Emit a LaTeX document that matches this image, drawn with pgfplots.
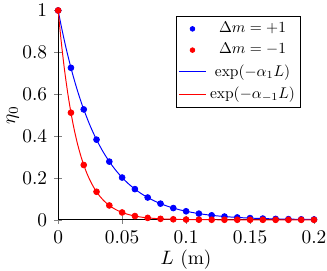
\documentclass[border=0pt]{standalone}
\usepackage{pgfplots}
\pgfplotsset{compat=1.18}
\begin{document}
\begin{tikzpicture}
\begin{axis}[
  scale only axis,
  width=132pt, height=108pt,
  xmin=0, xmax=0.2, ymin=0, ymax=1,
  axis x line=bottom, axis y line=left,
  axis line style={-},
  tick align=center,
  xtick={0,0.05,0.1,0.15,0.2},
  ytick={0,0.2,0.4,0.6,0.8,1},
  scaled x ticks=false,
  xticklabel style={/pgf/number format/fixed},
  xlabel={$L$ (m)}, ylabel={$\eta_0$},
  xlabel shift=-3.5pt, ylabel shift=-5pt,
  clip=false,
  legend style={at={(0.95,0.974)}, anchor=north east, inner sep=1pt},
  legend cell align=center,
  legend image post style={scale=0.8},
]
\addplot[only marks, mark=*, mark size=1.5pt, color=blue] coordinates {
(0,1) (0.01,0.7261) (0.02,0.5273) (0.03,0.3829) (0.04,0.2780) (0.05,0.2019)
(0.06,0.1466) (0.07,0.1065) (0.08,0.0773) (0.09,0.0561) (0.10,0.0408)
(0.11,0.0296) (0.12,0.0215) (0.13,0.0156) (0.14,0.0113) (0.15,0.0082)
(0.16,0.0060) (0.17,0.0043) (0.18,0.0032) (0.19,0.0023) (0.20,0.0017)
};
\addlegendentry{\scalebox{0.8}{$\Delta m=+1$}}
\addplot[only marks, mark=*, mark size=1.5pt, color=red] coordinates {
(0,1) (0.01,0.5117) (0.02,0.2619) (0.03,0.1340) (0.04,0.0686) (0.05,0.0351)
(0.06,0.0180) (0.07,0.0092) (0.08,0.0047) (0.09,0.0024) (0.10,0.0012)
(0.11,0.0006) (0.12,0.0003) (0.13,0.0002) (0.14,0.0001) (0.15,0.0000)
(0.16,0.0000) (0.17,0.0000) (0.18,0.0000) (0.19,0.0000) (0.20,0.0000)
};
\addlegendentry{\scalebox{0.8}{$\Delta m=-1$}}
\addplot[color=blue, line width=0.5pt, mark=none, smooth] coordinates {
(0,1) (0.0025,0.9231) (0.005,0.8521) (0.0075,0.7866) (0.01,0.7261)
(0.0125,0.6703) (0.015,0.6188) (0.0175,0.5712) (0.02,0.5273)
(0.025,0.4493) (0.03,0.3829) (0.035,0.3263) (0.04,0.2780) (0.045,0.2369)
(0.05,0.2019) (0.055,0.1720) (0.06,0.1466) (0.065,0.1249) (0.07,0.1065)
(0.075,0.0907) (0.08,0.0773) (0.085,0.0659) (0.09,0.0561) (0.095,0.0478)
(0.10,0.0408) (0.11,0.0296) (0.12,0.0215) (0.13,0.0156) (0.14,0.0113)
(0.15,0.0082) (0.16,0.0060) (0.17,0.0043) (0.18,0.0032) (0.19,0.0023) (0.20,0.0017)
};
\addlegendentry{\scalebox{0.8}{$\exp(-\alpha_1 L)$}}
\addplot[color=red, line width=0.5pt, mark=none, smooth] coordinates {
(0,1) (0.0025,0.8458) (0.005,0.7153) (0.0075,0.6050) (0.01,0.5117)
(0.0125,0.4328) (0.015,0.3660) (0.0175,0.3096) (0.02,0.2619)
(0.0225,0.2215) (0.025,0.1873) (0.0275,0.1585) (0.03,0.1340)
(0.0325,0.1133) (0.035,0.0958) (0.0375,0.0811) (0.04,0.0686)
(0.0425,0.0580) (0.045,0.0490) (0.0475,0.0415) (0.05,0.0351)
(0.055,0.0251) (0.06,0.0180) (0.065,0.0128) (0.07,0.0092)
(0.08,0.0047) (0.09,0.0024) (0.10,0.0012) (0.12,0.0003) (0.15,0.0000) (0.20,0.0000)
};
\addlegendentry{\scalebox{0.8}{$\exp(-\alpha_{-1} L)$}}
\end{axis}
\pgfresetboundingbox
\path[use as bounding box] ([shift={(-30pt,-26pt)}]current axis.south west) rectangle ([shift={(6.7pt,5.4pt)}]current axis.north east);
\end{tikzpicture}
\end{document}
